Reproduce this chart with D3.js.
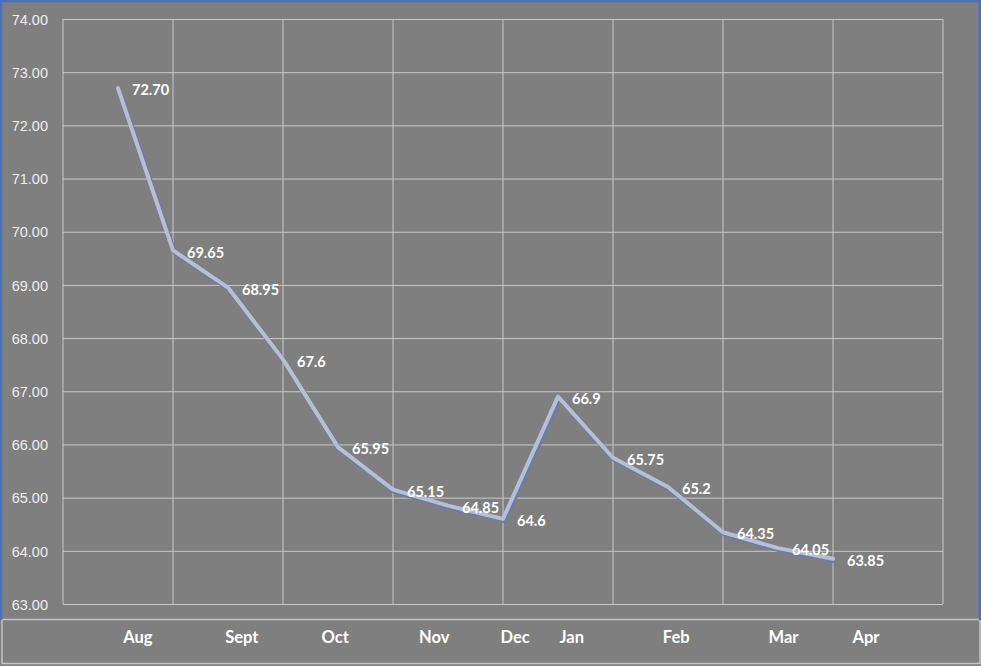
<!DOCTYPE html>
<html>
<head>
<meta charset="utf-8">
<script src="https://cdn.jsdelivr.net/npm/d3@7"></script>
<style>
  body { margin: 0; background: #7f7f7f; }
  svg { display: block; font-family: Lato, "Open Sans", sans-serif; }
</style>
</head>
<body>
<div id="chart"></div>
<script>
var svgWidth = 981;
var svgHeight = 666;

// data
var values = [72.70, 69.65, 68.95, 67.6, 65.95, 65.15, 64.85, 64.6, 66.9, 65.75, 65.2, 64.35, 64.05, 63.85];
var valueLabels = ["72.70", "69.65", "68.95", "67.6", "65.95", "65.15", "64.85", "64.6", "66.9", "65.75", "65.2", "64.35", "64.05", "63.85"];
var yTicks = [63, 64, 65, 66, 67, 68, 69, 70, 71, 72, 73, 74];
var months = ["Aug", "Sept", "Oct", "Nov", "Dec", "Jan", "Feb", "Mar", "Apr"];
// where each month label sits, in point-index units
var monthAt = [0.36, 2.25, 3.95, 5.75, 7.22, 8.25, 10.15, 12.1, 13.6];

var margin = { top: 19, right: 38, bottom: 62, left: 63 };
var width = svgWidth - margin.left - margin.right;
var height = svgHeight - margin.top - margin.bottom;

var svg = d3.select("#chart")
  .append("svg")
  .attr("width", svgWidth)
  .attr("height", svgHeight);

// background + frame
svg.append("rect")
  .attr("width", svgWidth).attr("height", svgHeight)
  .attr("fill", "#7f7f7f");

// bottom strip
svg.append("rect")
  .attr("x", 2).attr("y", 619.5)
  .attr("width", svgWidth - 3).attr("height", 44)
  .attr("fill", "#7f7f7f")
  .attr("stroke", "#c4c4c4")
  .attr("stroke-width", 1.5);

svg.append("path")
  .attr("d", `M1,620 V1 H${svgWidth - 1} V620`)
  .attr("fill", "none")
  .attr("stroke", "#4472c4")
  .attr("stroke-width", 2.5);

var chartGroup = svg.append("g")
  .attr("transform", `translate(${margin.left}, ${margin.top})`);

// x: 8 bands of gridlines, points on half bands
var xIndex = d3.scaleLinear()
  .domain([-1, 15])
  .range([0, width]);

var yLinearScale = d3.scaleLinear()
  .domain([63, 74])
  .range([height, 0]);

// horizontal gridlines
var leftAxis = d3.axisLeft(yLinearScale)
  .tickValues(yTicks)
  .tickSize(-width)
  .tickPadding(15)
  .tickFormat(d3.format(".2f"));

var yAxis = chartGroup.append("g").call(leftAxis);
yAxis.select(".domain").remove();
yAxis.selectAll("line").attr("stroke", "#c9c9c9").attr("stroke-width", 1);
yAxis.selectAll("text")
  .attr("fill", "#eeeeee")
  .attr("font-size", 14.5)
  .attr("dy", "0.36em");

// vertical gridlines
var gridCols = d3.range(-1, 16, 2);
chartGroup.append("g")
  .selectAll("line")
  .data(gridCols)
  .enter()
  .append("line")
  .attr("x1", d => xIndex(d))
  .attr("x2", d => xIndex(d))
  .attr("y1", 0)
  .attr("y2", height)
  .attr("stroke", "#c9c9c9")
  .attr("stroke-width", 1);

var line = d3.line()
  .x((d, i) => xIndex(i))
  .y(d => yLinearScale(d));

// shadow then line
chartGroup.append("path")
  .datum(values)
  .attr("d", line)
  .attr("transform", "translate(1.5,2)")
  .attr("fill", "none")
  .attr("stroke", "#6a7cab")
  .attr("stroke-width", 4.5)
  .attr("stroke-linejoin", "round");

chartGroup.append("path")
  .datum(values)
  .attr("d", line)
  .attr("fill", "none")
  .attr("stroke", "#b7bfd3")
  .attr("stroke-width", 4)
  .attr("stroke-linejoin", "round")
  .attr("stroke-linecap", "round");

// data labels
chartGroup.append("g")
  .selectAll("text")
  .data(values)
  .enter()
  .append("text")
  .attr("x", (d, i) => xIndex(i) + 14)
  .attr("y", d => yLinearScale(d) + 2)
  .attr("dy", "0.36em")
  .attr("fill", "#ffffff")
  .attr("font-size", 14.5)
  .attr("font-weight", "bold")
  .text((d, i) => valueLabels[i]);

// month labels in the bottom strip
svg.append("g")
  .selectAll("text")
  .data(months)
  .enter()
  .append("text")
  .attr("x", (d, i) => margin.left + xIndex(monthAt[i]))
  .attr("y", 637)
  .attr("dy", "0.36em")
  .attr("text-anchor", "middle")
  .attr("fill", "#ffffff")
  .attr("font-size", 16.5)
  .attr("font-weight", "bold")
  .text(d => d);
</script>
</body>
</html>
